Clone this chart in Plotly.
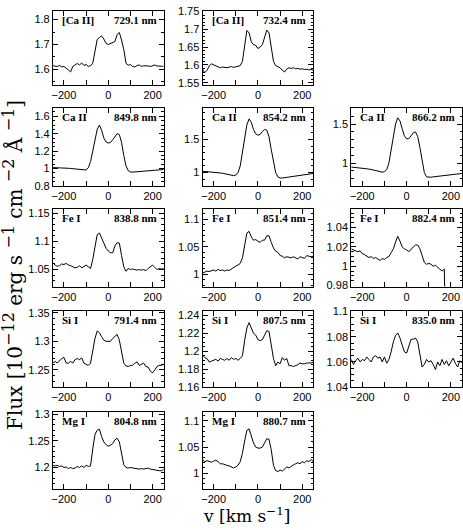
import plotly.graph_objects as go

# ---------------- data ----------------
velocity = [-250, -240, -230, -220, -210, -200, -190, -180, -170, -160, -150,
            -140, -130, -120, -110, -100, -90, -80, -70, -60, -50, -40, -30,
            -20, -10, 0, 10, 20, 30, 40, 50, 60, 70, 80, 90, 100, 110, 120,
            130, 140, 150, 160, 170, 180, 190, 200, 210, 220, 230, 240, 250]

flux_CaII_7291 = [1.615, 1.614, 1.612, 1.616, 1.610, 1.612, 1.603, 1.598, 1.590, 1.612, 1.618,
                  1.624, 1.618, 1.626, 1.616, 1.620, 1.612, 1.615, 1.625, 1.680, 1.720, 1.728, 1.735,
                  1.722, 1.705, 1.700, 1.703, 1.706, 1.712, 1.740, 1.748, 1.718, 1.680, 1.625, 1.617, 1.620, 1.612, 1.610,
                  1.616, 1.618, 1.612, 1.615, 1.616, 1.614, 1.612, 1.615, 1.618, 1.614, 1.612, 1.613, 1.612]

flux_CaII_7324 = [1.588, 1.578, 1.585, 1.597, 1.603, 1.600, 1.596, 1.594, 1.592, 1.594, 1.593,
                  1.592, 1.594, 1.595, 1.593, 1.595, 1.597, 1.598, 1.610, 1.660, 1.697, 1.690, 1.665,
                  1.657, 1.655, 1.646, 1.650, 1.657, 1.680, 1.698, 1.690, 1.650, 1.610, 1.598, 1.594, 1.592, 1.585, 1.580,
                  1.588, 1.592, 1.590, 1.592, 1.589, 1.590, 1.588, 1.589, 1.587, 1.588, 1.586, 1.587, 1.585]

flux_CaII_8498 = [1.010, 1.010, 1.008, 1.008, 1.006, 1.004, 1.003, 1.002, 1.000, 0.997, 0.995,
                  0.990, 0.985, 0.980, 0.978, 0.982, 1.010, 1.080, 1.200, 1.330, 1.450, 1.500, 1.440,
                  1.350, 1.305, 1.292, 1.300, 1.330, 1.370, 1.400, 1.390, 1.300, 1.150, 1.030, 0.975, 0.960, 0.958, 0.960,
                  0.962, 0.965, 0.968, 0.970, 0.972, 0.975, 0.977, 0.980, 0.982, 0.984, 0.985, 0.986, 0.988]

flux_CaII_8542 = [1.020, 1.018, 1.016, 1.013, 1.010, 1.006, 1.002, 0.998, 0.994, 0.990, 0.984,
                  0.976, 0.968, 0.960, 0.954, 0.962, 1.000, 1.100, 1.300, 1.520, 1.720, 1.810, 1.760,
                  1.650, 1.585, 1.565, 1.575, 1.620, 1.650, 1.640, 1.540, 1.350, 1.150, 1.000, 0.935, 0.918, 0.918, 0.922,
                  0.926, 0.930, 0.935, 0.940, 0.945, 0.950, 0.955, 0.960, 0.965, 0.970, 0.976, 0.982, 0.988]

flux_CaII_8662 = [0.950, 0.948, 0.946, 0.943, 0.940, 0.936, 0.932, 0.928, 0.924, 0.920, 0.915,
                  0.908, 0.900, 0.892, 0.885, 0.890, 0.920, 1.000, 1.150, 1.330, 1.500, 1.580, 1.540,
                  1.440, 1.350, 1.310, 1.315, 1.350, 1.390, 1.400, 1.340, 1.200, 1.020, 0.880, 0.825, 0.818, 0.820, 0.825,
                  0.828, 0.832, 0.835, 0.838, 0.842, 0.845, 0.848, 0.852, 0.855, 0.858, 0.862, 0.865, 0.868]

flux_FeI_8388 = [1.062, 1.058, 1.056, 1.057, 1.060, 1.059, 1.061, 1.058, 1.057, 1.055, 1.053,
                 1.054, 1.057, 1.053, 1.055, 1.058, 1.055, 1.052, 1.068, 1.090, 1.112, 1.115, 1.105,
                 1.095, 1.088, 1.083, 1.080, 1.080, 1.092, 1.098, 1.097, 1.075, 1.055, 1.047, 1.052, 1.050, 1.051, 1.050,
                 1.049, 1.050, 1.049, 1.050, 1.048, 1.052, 1.055, 1.058, 1.054, 1.050, 1.052, 1.051, 1.052]

flux_FeI_8514 = [1.002, 1.004, 1.006, 1.005, 1.007, 1.008, 1.006, 1.009, 1.007, 1.008, 1.006,
                 1.008, 1.007, 1.010, 1.012, 1.015, 1.017, 1.020, 1.030, 1.055, 1.075, 1.078, 1.068,
                 1.062, 1.063, 1.060, 1.058, 1.062, 1.062, 1.070, 1.070, 1.058, 1.048, 1.042, 1.040, 1.034, 1.033, 1.030,
                 1.032, 1.031, 1.030, 1.032, 1.030, 1.028, 1.032, 1.030, 1.029, 1.034, 1.033, 1.032, 1.033]

flux_FeI_8824 = [1.018, 1.017, 1.016, 1.015, 1.016, 1.013, 1.012, 1.010, 1.009, 1.010, 1.008,
                 1.009, 1.007, 1.006, 1.008, 1.007, 1.009, 1.010, 1.014, 1.018, 1.025, 1.031, 1.026,
                 1.020, 1.018, 1.017, 1.015, 1.018, 1.020, 1.022, 1.022, 1.018, 1.010, 1.004, 1.002, 1.003, 1.002, 1.000,
                 1.001, 0.999, 0.997, 0.995, 0.997, 0.900]

flux_SiI_7914 = [1.262, 1.265, 1.262, 1.266, 1.270, 1.272, 1.262, 1.262, 1.265, 1.262, 1.268,
                 1.270, 1.268, 1.271, 1.262, 1.260, 1.258, 1.262, 1.285, 1.305, 1.318, 1.315, 1.308,
                 1.302, 1.300, 1.300, 1.300, 1.305, 1.308, 1.312, 1.302, 1.280, 1.262, 1.257, 1.256, 1.258, 1.258, 1.262,
                 1.264, 1.258, 1.260, 1.262, 1.256, 1.255, 1.248, 1.245, 1.250, 1.256, 1.258, 1.258, 1.260]

flux_SiI_8075 = [1.1955, 1.193, 1.192, 1.188, 1.189, 1.190, 1.191, 1.189, 1.192, 1.191, 1.190,
                 1.192, 1.190, 1.193, 1.191, 1.192, 1.190, 1.192, 1.195, 1.212, 1.226, 1.232, 1.225,
                 1.220, 1.218, 1.213, 1.212, 1.213, 1.218, 1.223, 1.222, 1.208, 1.192, 1.184, 1.188, 1.186, 1.193, 1.190,
                 1.192, 1.184, 1.184, 1.183, 1.184, 1.185, 1.187, 1.186, 1.186, 1.187, 1.187, 1.187, 1.188]

flux_SiI_8350 = [1.062, 1.058, 1.061, 1.063, 1.060, 1.062, 1.061, 1.064, 1.062, 1.060, 1.064,
                 1.065, 1.063, 1.064, 1.060, 1.064, 1.059, 1.062, 1.068, 1.076, 1.081, 1.083, 1.079,
                 1.074, 1.068, 1.067, 1.072, 1.078, 1.078, 1.079, 1.076, 1.065, 1.056, 1.058, 1.062, 1.060, 1.061, 1.058,
                 1.054, 1.060, 1.057, 1.062, 1.058, 1.061, 1.057, 1.060, 1.063, 1.059, 1.056, 1.061, 1.059]

flux_MgI_8048 = [1.204, 1.203, 1.204, 1.202, 1.203, 1.200, 1.201, 1.198, 1.200, 1.198, 1.199,
                 1.202, 1.200, 1.203, 1.200, 1.204, 1.202, 1.203, 1.235, 1.262, 1.270, 1.272, 1.258,
                 1.248, 1.243, 1.240, 1.242, 1.245, 1.252, 1.255, 1.248, 1.228, 1.205, 1.200, 1.199, 1.200, 1.199, 1.198,
                 1.198, 1.197, 1.198, 1.197, 1.198, 1.199, 1.197, 1.196, 1.196, 1.195, 1.194, 1.194, 1.196]

flux_MgI_8807 = [1.026, 1.022, 1.024, 1.022, 1.021, 1.023, 1.025, 1.022, 1.018, 1.018, 1.016,
                 1.015, 1.014, 1.012, 1.010, 1.012, 1.015, 1.022, 1.038, 1.062, 1.082, 1.085, 1.072,
                 1.058, 1.050, 1.048, 1.048, 1.050, 1.058, 1.066, 1.065, 1.045, 1.015, 1.005, 1.003, 1.006, 1.004, 1.008,
                 1.012, 1.010, 1.014, 1.016, 1.018, 1.020, 1.018, 1.022, 1.020, 1.024, 1.022, 1.026, 1.022]

species = ["[Ca II]", "[Ca II]", "Ca II", "Ca II", "Ca II", "Fe I", "Fe I", "Fe I",
           "Si I", "Si I", "Si I", "Mg I", "Mg I"]
wavelengths = ["729.1 nm", "732.4 nm", "849.8 nm", "854.2 nm", "866.2 nm", "838.8 nm",
               "851.4 nm", "882.4 nm", "791.4 nm", "807.5 nm", "835.0 nm", "804.8 nm", "880.7 nm"]
fluxes = [flux_CaII_7291, flux_CaII_7324, flux_CaII_8498, flux_CaII_8542, flux_CaII_8662,
          flux_FeI_8388, flux_FeI_8514, flux_FeI_8824, flux_SiI_7914, flux_SiI_8075,
          flux_SiI_8350, flux_MgI_8048, flux_MgI_8807]
y_ranges = [[1.537, 1.835], [1.543, 1.752], [0.8, 1.70], [0.8, 1.98], [0.71, 1.71],
            [1.02, 1.157], [0.978, 1.118], [0.979, 1.059], [1.22, 1.353], [1.16, 1.245],
            [1.04, 1.1005], [1.16, 1.305], [0.97, 1.118]]
y_major = [0.1, 0.05, 0.2, 0.5, 0.5, 0.05, 0.05, 0.02, 0.05, 0.02, 0.02, 0.05, 0.05]
y_minor = [0.05, 0.01, 0.05, 0.1, 0.1, 0.01, 0.01, 0.005, 0.01, 0.005, 0.005, 0.01, 0.01]
x_tick_labels = [-200, 0, 200]

# ---------------- layout geometry (pixels) ----------------
W, H = 463, 530
grid_pos = [(0, 0), (0, 1), (1, 0), (1, 1), (1, 2), (2, 0), (2, 1), (2, 2),
            (3, 0), (3, 1), (3, 2), (4, 0), (4, 1)]
rows_px = [(5, 81), (104, 184), (208, 287), (312, 390), (415, 494)]
cols_px = [(52, 163), (202, 313), (351, 462)]

fig = go.Figure()
layout = dict(width=W, height=H, margin=dict(l=0, r=0, t=0, b=0),
              paper_bgcolor="white", plot_bgcolor="white", showlegend=False,
              annotations=[])

tick_font = dict(family="Liberation Sans, Arial, sans-serif", size=11, color="black")
label_font = dict(family="Liberation Serif, Times New Roman, serif", size=11, color="black")

for i, (r, c) in enumerate(grid_pos):
    n = i + 1
    xa = "x" if n == 1 else f"x{n}"
    ya = "y" if n == 1 else f"y{n}"
    fig.add_trace(go.Scatter(x=velocity, y=fluxes[i], mode="lines",
                             line=dict(color="black", width=1),
                             xaxis=xa, yaxis=ya, hoverinfo="skip"))
    top, bot = rows_px[r]
    left, right = cols_px[c]
    common = dict(showline=True, linecolor="black", linewidth=1, mirror="ticks",
                  ticks="inside", tickcolor="black", tickwidth=1, showgrid=False,
                  zeroline=False, tickfont=tick_font, fixedrange=True)
    layout["xaxis" if n == 1 else f"xaxis{n}"] = dict(
        domain=[left / W, right / W], anchor=ya, range=[-250, 250],
        tickmode="array", tickvals=x_tick_labels, ticklen=5,
        minor=dict(ticks="inside", tickvals=[-100, 100], ticklen=5, tickcolor="black"),
        **common)
    layout["yaxis" if n == 1 else f"yaxis{n}"] = dict(
        domain=[1 - bot / H, 1 - top / H], anchor=xa, range=y_ranges[i],
        dtick=y_major[i], tick0=0, ticklen=5,
        minor=dict(ticks="inside", dtick=y_minor[i], tick0=0, ticklen=2.5, tickcolor="black"),
        **common)
    dom_h = bot - top
    layout["annotations"].append(dict(
        text="<b>%s</b>" % species[i], xref=f"{xa} domain", yref=f"{ya} domain",
        x=7 / (right - left), y=1 - 1 / dom_h, xanchor="left", yanchor="top",
        showarrow=False, font=label_font))
    layout["annotations"].append(dict(
        text="<b>%s</b>" % wavelengths[i], xref=f"{xa} domain", yref=f"{ya} domain",
        x=1 - 5 / (right - left), y=1 - 1 / dom_h, xanchor="right", yanchor="top",
        showarrow=False, font=label_font))

title_font = dict(family="DejaVu Serif, Liberation Serif, serif", size=20, color="black")
sup = "<sup><span style='font-size:16px'>%s</span></sup>"
y_title = ("Flux [10" + sup % "−12" + " erg s " + sup % "−1" + " cm " + sup % "−2"
           + " Å " + sup % "−1" + "]")
layout["annotations"].append(dict(
    text=y_title, xref="paper", yref="paper", x=12 / W, y=1 - 265 / H, textangle=-90,
    xanchor="center", yanchor="middle", showarrow=False, font=title_font))
layout["annotations"].append(dict(
    text="v [km s<sup>−1</sup>]", xref="paper", yref="paper", x=246 / W, y=1 - 521 / H,
    xanchor="center", yanchor="middle", showarrow=False, font=dict(title_font, size=17)))

fig.update_layout(**layout)
fig.write_html("out.html", config={"displayModeBar": False},
               post_script="document.body.style.margin='0px';document.body.style.padding='0px';")
